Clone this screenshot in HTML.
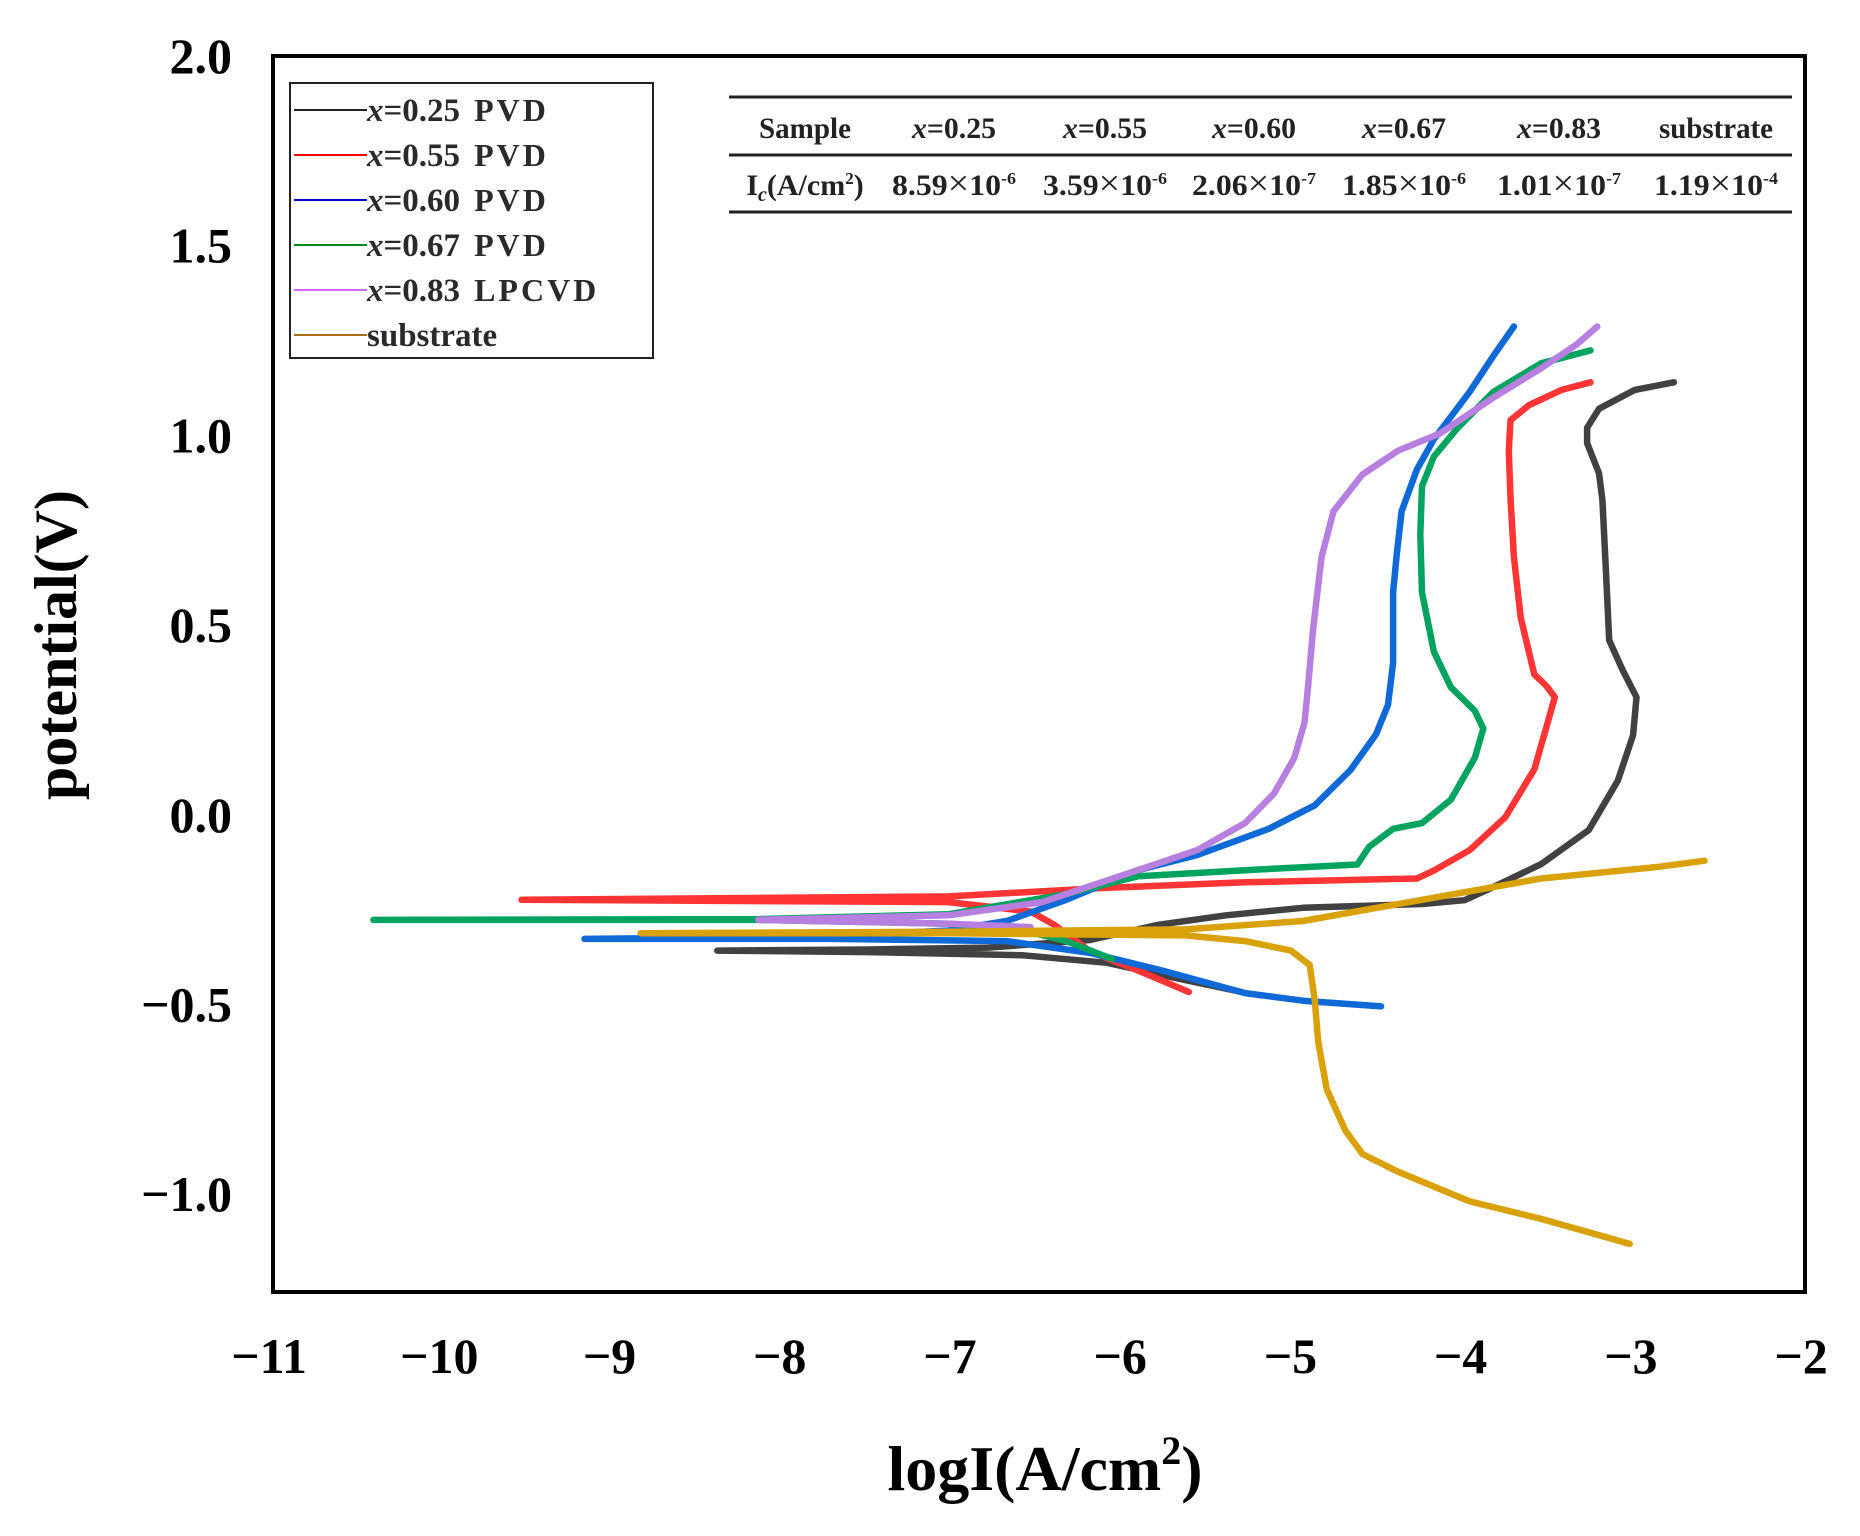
<!DOCTYPE html>
<html><head><meta charset="utf-8"><style>
html,body{margin:0;padding:0;background:#fff;}
svg{display:block;font-family:"Liberation Serif",serif;}
</style></head><body>
<svg id="chart" width="1860" height="1536" viewBox="0 0 1860 1536" xmlns="http://www.w3.org/2000/svg">
<g id="ticks"></g>
<g id="series"></g>
<rect x="273" y="56" width="1532" height="1236" fill="none" stroke="#000" stroke-width="4"/>
<text transform="translate(62,645) rotate(-90)" text-anchor="middle" font-size="60" font-weight="bold" dominant-baseline="middle">potential(V)</text>
<text x="1045" y="1490" text-anchor="middle" font-size="64" font-weight="bold">logI(A/cm<tspan dy="-26" font-size="40">2</tspan><tspan dy="26">)</tspan></text>
<g>
<rect x="290" y="83" width="363" height="275" fill="#fff" stroke="#222" stroke-width="2"/>
<g id="legend-items"></g>
</g>
<g font-size="30" font-weight="bold" text-anchor="middle" fill="#222">
<line x1="729" y1="97" x2="1792" y2="97" stroke="#222" stroke-width="3"/>
<line x1="729" y1="155" x2="1792" y2="155" stroke="#222" stroke-width="3"/>
<line x1="729" y1="212" x2="1792" y2="212" stroke="#222" stroke-width="3"/>
<text x="805" y="138" textLength="92" lengthAdjust="spacingAndGlyphs">Sample</text>
<text x="954" y="138" textLength="84" lengthAdjust="spacingAndGlyphs"><tspan font-style="italic">x</tspan>=0.25</text>
<text x="1105" y="138" textLength="84" lengthAdjust="spacingAndGlyphs"><tspan font-style="italic">x</tspan>=0.55</text>
<text x="1254" y="138" textLength="84" lengthAdjust="spacingAndGlyphs"><tspan font-style="italic">x</tspan>=0.60</text>
<text x="1404" y="138" textLength="84" lengthAdjust="spacingAndGlyphs"><tspan font-style="italic">x</tspan>=0.67</text>
<text x="1559" y="138" textLength="84" lengthAdjust="spacingAndGlyphs"><tspan font-style="italic">x</tspan>=0.83</text>
<text x="1716" y="138" textLength="114" lengthAdjust="spacingAndGlyphs">substrate</text>
<text x="805" y="195">I<tspan font-style="italic" font-size="20" dy="6">c</tspan><tspan dy="-6">(A/cm</tspan><tspan font-size="17" dy="-11">2</tspan><tspan dy="11">)</tspan></text>
<text x="954" y="195" textLength="124" lengthAdjust="spacingAndGlyphs">8.59<tspan font-weight="normal" font-size="36">×</tspan>10<tspan font-size="17" dy="-11">-6</tspan></text>
<text x="1105" y="195" textLength="124" lengthAdjust="spacingAndGlyphs">3.59<tspan font-weight="normal" font-size="36">×</tspan>10<tspan font-size="17" dy="-11">-6</tspan></text>
<text x="1254" y="195" textLength="124" lengthAdjust="spacingAndGlyphs">2.06<tspan font-weight="normal" font-size="36">×</tspan>10<tspan font-size="17" dy="-11">-7</tspan></text>
<text x="1404" y="195" textLength="124" lengthAdjust="spacingAndGlyphs">1.85<tspan font-weight="normal" font-size="36">×</tspan>10<tspan font-size="17" dy="-11">-6</tspan></text>
<text x="1559" y="195" textLength="124" lengthAdjust="spacingAndGlyphs">1.01<tspan font-weight="normal" font-size="36">×</tspan>10<tspan font-size="17" dy="-11">-7</tspan></text>
<text x="1716" y="195" textLength="124" lengthAdjust="spacingAndGlyphs">1.19<tspan font-weight="normal" font-size="36">×</tspan>10<tspan font-size="17" dy="-11">-4</tspan></text>
</g>
</svg>
<script>
const xTicks = [-11,-10,-9,-8,-7,-6,-5,-4,-3,-2];
const yTicks = [2.0,1.5,1.0,0.5,0.0,-0.5,-1.0];
const seriesNames = ["x=0.25 PVD","x=0.55 PVD","x=0.60 PVD","x=0.67 PVD","x=0.83 LPCVD","substrate"];
const s025LogI = [-5.31,-5.7,-6.1,-6.6,-7.5,-8.39,-7.5,-6.8,-6.2,-5.8,-5.4,-4.95,-4.25,-4.0,-3.83,-3.55,-3.27,-3.1,-3.01,-2.99,-3.07,-3.15,-3.17,-3.19,-3.21,-3.28,-3.28,-3.21,-3.0,-2.77];
const s025E = [-0.467,-0.43,-0.39,-0.37,-0.362,-0.358,-0.355,-0.35,-0.33,-0.29,-0.265,-0.245,-0.235,-0.225,-0.19,-0.13,-0.04,0.09,0.21,0.31,0.38,0.46,0.65,0.83,0.90,0.98,1.02,1.07,1.12,1.14];
const s055LogI = [-5.62,-5.92,-6.2,-6.41,-6.55,-7.03,-9.54,-7.03,-6.13,-5.29,-4.28,-4.18,-3.97,-3.76,-3.59,-3.52,-3.47,-3.52,-3.59,-3.67,-3.71,-3.73,-3.74,-3.73,-3.62,-3.43,-3.26];
const s055E = [-0.467,-0.41,-0.36,-0.29,-0.255,-0.23,-0.224,-0.215,-0.193,-0.178,-0.168,-0.147,-0.093,-0.006,0.12,0.23,0.31,0.34,0.37,0.52,0.68,0.835,0.96,1.04,1.08,1.12,1.14];
const s060LogI = [-4.49,-4.95,-5.29,-5.78,-6.2,-6.69,-7.73,-9.17,-7.73,-7.03,-6.69,-6.34,-5.92,-5.57,-5.15,-4.88,-4.67,-4.52,-4.45,-4.42,-4.42,-4.40,-4.37,-4.28,-4.18,-3.97,-3.83,-3.71];
const s060E = [-0.505,-0.49,-0.47,-0.41,-0.364,-0.333,-0.327,-0.327,-0.32,-0.305,-0.28,-0.224,-0.146,-0.106,-0.037,0.025,0.118,0.212,0.29,0.4,0.586,0.68,0.80,0.91,0.99,1.115,1.21,1.287];
const s067LogI = [-6.07,-6.34,-6.62,-7.03,-8.15,-10.41,-8.15,-7.03,-6.34,-5.92,-5.29,-4.63,-4.56,-4.42,-4.25,-4.08,-3.94,-3.89,-3.94,-4.08,-4.18,-4.25,-4.26,-4.25,-4.18,-4.04,-3.83,-3.55,-3.26];
const s067E = [-0.38,-0.333,-0.302,-0.287,-0.277,-0.277,-0.275,-0.262,-0.209,-0.162,-0.146,-0.131,-0.084,-0.037,-0.022,0.04,0.15,0.227,0.274,0.336,0.43,0.586,0.74,0.866,0.944,1.02,1.115,1.19,1.224];
const s083LogI = [-6.55,-7.03,-8.15,-7.03,-6.48,-5.92,-5.57,-5.29,-5.12,-5.0,-4.94,-4.92,-4.89,-4.84,-4.77,-4.6,-4.39,-4.14,-3.83,-3.55,-3.34,-3.22];
const s083E = [-0.296,-0.287,-0.277,-0.265,-0.23,-0.146,-0.093,-0.022,0.056,0.15,0.243,0.336,0.49,0.68,0.80,0.897,0.96,1.006,1.1,1.177,1.24,1.287];
const subLogI = [-3.03,-3.55,-3.97,-4.39,-4.6,-4.7,-4.81,-4.86,-4.88,-4.91,-5.02,-5.29,-5.64,-7.03,-8.84,-7.03,-5.64,-4.95,-4.25,-3.55,-2.86,-2.59];
const subE = [-1.131,-1.065,-1.019,-0.941,-0.894,-0.832,-0.723,-0.598,-0.489,-0.396,-0.358,-0.333,-0.318,-0.312,-0.312,-0.308,-0.302,-0.28,-0.224,-0.168,-0.137,-0.121];

const NS="http://www.w3.org/2000/svg";
const X0=273, X1=1805, Y0=56, Y1=1292;
const xMin=-11, xMax=-2, yTop=2.0, yPer=379.4;
function xScale(v){return X0+(v-xMin)*(X1-X0)/(xMax-xMin);}
function yScale(v){return Y0+(yTop-v)*yPer;}

const ticks=document.getElementById('ticks');
xTicks.forEach(function(t){
  const el=document.createElementNS(NS,'text');
  
  
  el.setAttribute('x',xScale(t)-4);
  el.setAttribute('y',1373);
  el.setAttribute('text-anchor','middle');
  el.setAttribute('font-size','50');
  el.setAttribute('font-weight','bold');
  el.textContent='\u2212'+Math.abs(t);
  ticks.appendChild(el);
});
yTicks.forEach(function(t){
  const el=document.createElementNS(NS,'text');
  
  
  el.setAttribute('x',232);
  el.setAttribute('y',yScale(t)+17);
  el.setAttribute('text-anchor','end');
  el.setAttribute('font-size','50');
  el.setAttribute('font-weight','bold');
  el.textContent=(t<0?'\u2212':'')+Math.abs(t).toFixed(1);
  ticks.appendChild(el);
});

const seriesData=[
 [s025LogI,s025E,'#414141','series-x025'],
 [s055LogI,s055E,'#ff3535','series-x055'],
 [s060LogI,s060E,'#0f6ad8','series-x060'],
 [s067LogI,s067E,'#00a45e','series-x067'],
 [s083LogI,s083E,'#b77fe0','series-x083'],
 [subLogI,subE,'#d9a20a','series-substrate']
];
const sg=document.getElementById('series');
seriesData.forEach(function(s){
  const p=document.createElementNS(NS,'polyline');
  
  
  p.setAttribute('points',s[0].map(function(v,i){return xScale(v).toFixed(1)+','+yScale(s[1][i]).toFixed(1);}).join(' '));
  p.setAttribute('fill','none');
  p.setAttribute('stroke',s[2]);
  p.setAttribute('stroke-width','6.5');
  p.setAttribute('stroke-linejoin','round');
  p.setAttribute('stroke-linecap','round');
  sg.appendChild(p);
});

const legendColors=['#222','#f00','#0000cc','#008a20','#cc66ff','#a8701a'];
const lg=document.getElementById('legend-items');
seriesNames.forEach(function(n,i){
  const y=110+i*45;
  const ln=document.createElementNS(NS,'line');
  
  
  ln.setAttribute('x1',294);ln.setAttribute('x2',367);
  ln.setAttribute('y1',y);ln.setAttribute('y2',y);
  ln.setAttribute('stroke',legendColors[i]);ln.setAttribute('stroke-width','2');
  lg.appendChild(ln);
  const tx=document.createElementNS(NS,'text');
  
  
  tx.setAttribute('x',367);tx.setAttribute('y',y+11);
  tx.setAttribute('font-size','33');tx.setAttribute('font-weight','bold');tx.setAttribute('fill','#2a2a2a');
  if(n.indexOf('x=')===0){
    const it=document.createElementNS(NS,'tspan');
    it.setAttribute('font-style','italic');it.textContent='x';
    tx.appendChild(it);
    const parts=n.slice(1).split(' ');
    const a=document.createElementNS(NS,'tspan');a.textContent=parts[0];tx.appendChild(a);
    const b=document.createElementNS(NS,'tspan');b.setAttribute('font-size','32');b.setAttribute('dx','14');b.setAttribute('letter-spacing','3');b.textContent=parts[1];tx.appendChild(b);
  } else { tx.textContent=n; }
  lg.appendChild(tx);
});
</script>
</body></html>
